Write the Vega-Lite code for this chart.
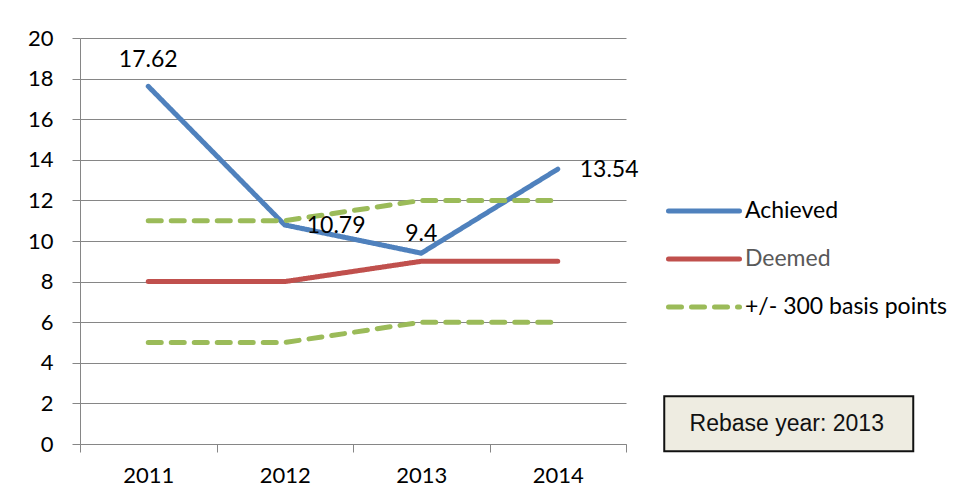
{
  "$schema": "https://vega.github.io/schema/vega-lite/v6.json",
  "width": 546,
  "height": 406,
  "autosize": {"type": "none"},
  "padding": {"left": 80, "top": 38, "right": 343, "bottom": 58},
  "background": "#ffffff",
  "config": {"font": "Lato", "view": {"stroke": null}},
  "datasets": {
    "series": [
      {"year": "2011", "series": "Achieved", "line": "Achieved", "value": 17.62},
      {"year": "2012", "series": "Achieved", "line": "Achieved", "value": 10.79},
      {"year": "2013", "series": "Achieved", "line": "Achieved", "value": 9.4},
      {"year": "2014", "series": "Achieved", "line": "Achieved", "value": 13.54},
      {"year": "2011", "series": "Deemed", "line": "Deemed", "value": 8},
      {"year": "2012", "series": "Deemed", "line": "Deemed", "value": 8},
      {"year": "2013", "series": "Deemed", "line": "Deemed", "value": 9},
      {"year": "2014", "series": "Deemed", "line": "Deemed", "value": 9},
      {"year": "2011", "series": "+/- 300 basis points", "line": "Upper", "value": 11},
      {"year": "2012", "series": "+/- 300 basis points", "line": "Upper", "value": 11},
      {"year": "2013", "series": "+/- 300 basis points", "line": "Upper", "value": 12},
      {"year": "2014", "series": "+/- 300 basis points", "line": "Upper", "value": 12},
      {"year": "2011", "series": "+/- 300 basis points", "line": "Lower", "value": 5},
      {"year": "2012", "series": "+/- 300 basis points", "line": "Lower", "value": 5},
      {"year": "2013", "series": "+/- 300 basis points", "line": "Lower", "value": 6},
      {"year": "2014", "series": "+/- 300 basis points", "line": "Lower", "value": 6}
    ],
    "note": [
      {"year": "2014", "value": 1, "label": "Rebase year: 2013"}
    ]
  },
  "encoding": {
    "x": {
      "field": "year",
      "type": "ordinal",
      "scale": {"type": "band", "paddingInner": 0, "paddingOuter": 0},
      "axis": {
        "title": null,
        "labelAngle": 0,
        "tickBand": "extent",
        "domainColor": "#868686",
        "tickColor": "#868686",
        "tickSize": 8,
        "labelFont": "Lato",
        "labelFontSize": 22,
        "labelColor": "#000000",
        "labelPadding": 13,
        "grid": false
      }
    },
    "y": {
      "field": "value",
      "type": "quantitative",
      "scale": {"domain": [0, 20], "nice": false},
      "axis": {
        "title": null,
        "values": [0, 2, 4, 6, 8, 10, 12, 14, 16, 18, 20],
        "grid": true,
        "gridColor": "#868686",
        "gridWidth": 1,
        "domainColor": "#868686",
        "tickColor": "#868686",
        "tickSize": 8,
        "labelFont": "Lato",
        "labelFontSize": 22,
        "labelColor": "#000000",
        "labelPadding": 19
      }
    }
  },
  "layer": [
    {
      "data": {"name": "series"},
      "mark": {"type": "line", "strokeWidth": 5, "strokeCap": "round", "strokeJoin": "round"},
      "encoding": {
        "detail": {"field": "line"},
        "color": {
          "field": "series",
          "type": "nominal",
          "scale": {
            "domain": ["Achieved", "Deemed", "+/- 300 basis points"],
            "range": ["#4F81BD", "#C0504D", "#9BBB59"]
          },
          "legend": {
            "title": null,
            "orient": "none",
            "legendX": 586,
            "legendY": 161,
            "padding": 0,
            "symbolType": "stroke",
            "symbolSize": 5041,
            "symbolStrokeWidth": 5,
            "clipHeight": 24,
            "rowPadding": 24,
            "labelOffset": 3,
            "labelLimit": 400,
            "labelFont": "Lato",
            "labelFontSize": 23,
            "labelColor": "#000000",
            "encode": {
              "symbols": {"update": {"strokeCap": {"value": "round"}}},
              "labels": {"update": {"fill": {"signal": "datum.label === 'Deemed' ? '#595959' : '#000000'"}}}
            }
          }
        },
        "strokeDash": {
          "field": "series",
          "type": "nominal",
          "scale": {
            "domain": ["Achieved", "Deemed", "+/- 300 basis points"],
            "range": [[1, 0], [1, 0], [13, 10]]
          }
        }
      }
    },
    {
      "data": {"name": "series"},
      "transform": [{"filter": "datum.series === 'Achieved' && datum.year === '2011'"}],
      "mark": {"type": "text", "font": "Lato", "fontSize": 23, "color": "#000000", "align": "center", "baseline": "middle", "dy": -26},
      "encoding": {"text": {"field": "value", "type": "quantitative"}}
    },
    {
      "data": {"name": "series"},
      "transform": [{"filter": "datum.series === 'Achieved' && datum.year === '2013'"}],
      "mark": {"type": "text", "font": "Lato", "fontSize": 23, "color": "#000000", "align": "center", "baseline": "middle", "dy": -19},
      "encoding": {"text": {"field": "value", "type": "quantitative"}}
    },
    {
      "data": {"name": "series"},
      "transform": [{"filter": "datum.series === 'Achieved' && (datum.year === '2012' || datum.year === '2014')"}],
      "mark": {"type": "text", "font": "Lato", "fontSize": 23, "color": "#000000", "align": "left", "baseline": "middle", "dx": 22, "dy": 1},
      "encoding": {"text": {"field": "value", "type": "quantitative"}}
    },
    {
      "data": {"name": "note"},
      "mark": {
        "type": "point",
        "shape": "M-1,-0.2209H1V0.2209H-1Z",
        "size": 62001,
        "filled": true,
        "fill": "#EEECE1",
        "stroke": "#111111",
        "strokeWidth": 2,
        "opacity": 1,
        "xOffset": 231
      }
    },
    {
      "data": {"name": "note"},
      "mark": {"type": "text", "font": "Liberation Sans", "fontSize": 23, "color": "#111111", "align": "center", "baseline": "middle", "dx": 229},
      "encoding": {"text": {"field": "label"}}
    }
  ]
}
